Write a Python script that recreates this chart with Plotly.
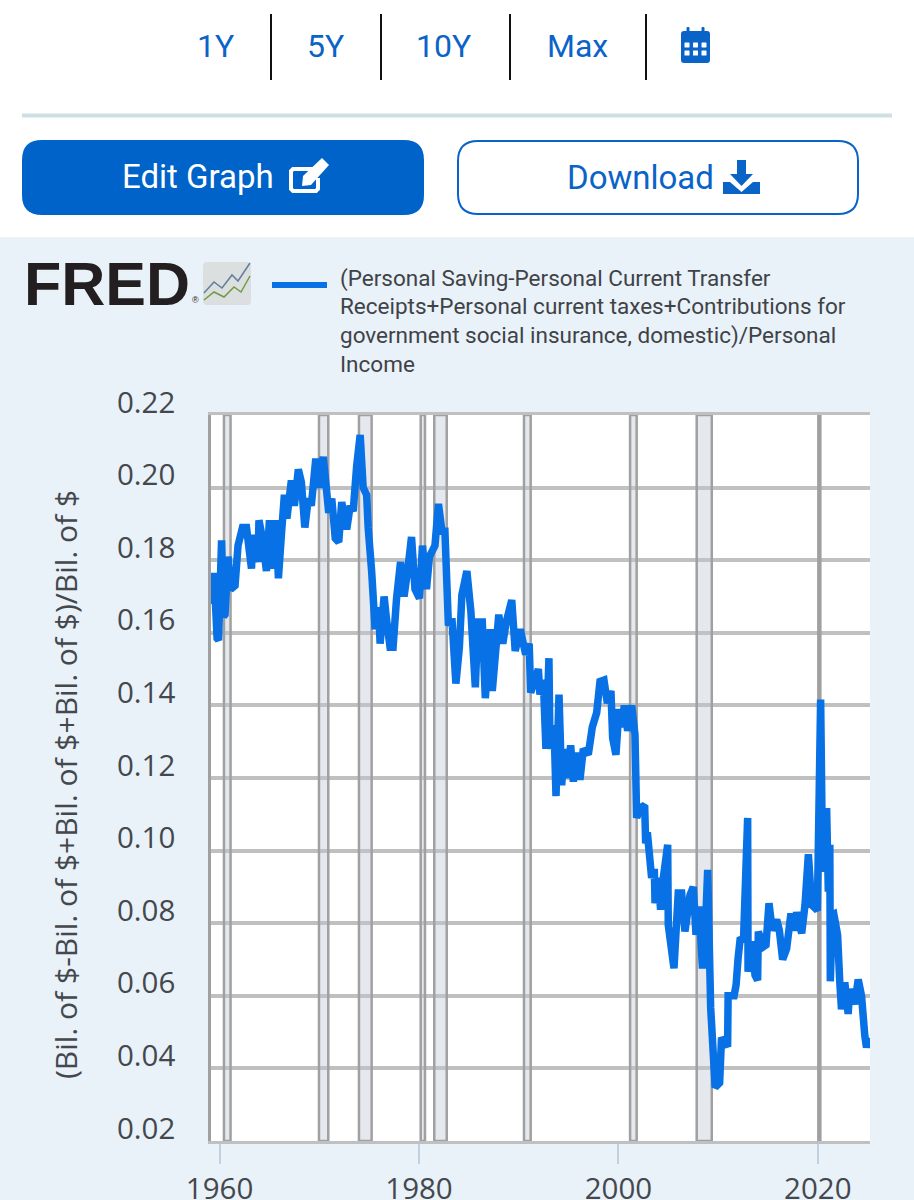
import plotly.graph_objects as go

W, H = 914, 1200

# series
years = [
    1959.14, 1959.3, 1959.45, 1959.75, 1959.9, 1960.2, 1960.4, 1960.55, 1960.85, 1961.1, 1961.55, 1961.85,
    1962.3, 1962.7, 1963.2, 1963.35, 1963.85, 1963.95, 1964.3, 1964.7, 1965.0, 1965.2, 1965.65, 1965.9,
    1966.2, 1966.5, 1966.75, 1967.2, 1967.5, 1967.9, 1968.2, 1968.55, 1968.9, 1969.2, 1969.65, 1969.95,
    1970.4, 1970.95, 1971.25, 1971.6, 1971.95, 1972.25, 1972.75, 1973.1, 1973.4, 1973.75, 1974.1, 1974.4,
    1974.75, 1974.9, 1975.25, 1975.6, 1975.95, 1976.1, 1976.5, 1976.75, 1977.1, 1977.4, 1977.75, 1978.15,
    1978.5, 1978.9, 1979.25, 1979.6, 1980.05, 1980.35, 1980.75, 1981.05, 1981.6, 1981.95, 1982.3, 1982.6,
    1982.95, 1983.3, 1983.7, 1984.05, 1984.3, 1984.8, 1985.2, 1985.65, 1985.9, 1986.35, 1986.65, 1987.15,
    1987.35, 1988.0, 1988.4, 1988.75, 1989.3, 1989.65, 1990.15, 1990.7, 1991.05, 1991.2, 1991.97, 1992.13,
    1992.47, 1992.73, 1993.03, 1993.14, 1993.54, 1993.74, 1994.04, 1994.31, 1994.57, 1994.81, 1995.21, 1995.48,
    1995.81, 1996.14, 1996.48, 1996.98, 1997.38, 1997.82, 1998.15, 1998.55, 1998.89, 1999.25, 1999.42, 1999.75,
    2000.06, 2000.32, 2000.59, 2000.92, 2001.33, 2001.66, 2001.83, 2002.16, 2002.63, 2002.73, 2002.9, 2003.33,
    2003.6, 2003.67, 2004.0, 2004.23, 2004.5, 2004.94, 2005.0, 2005.57, 2006.0, 2006.34, 2006.67, 2007.18,
    2007.51, 2007.78, 2008.08, 2008.41, 2008.58, 2008.95, 2009.25, 2009.7, 2010.15, 2010.34, 2010.95, 2011.0,
    2011.6, 2011.8, 2012.0, 2012.2, 2012.55, 2012.96, 2013.0, 2013.4, 2013.7, 2013.96, 2014.03, 2014.53,
    2014.8, 2015.1, 2015.43, 2015.87, 2016.14, 2016.47, 2016.87, 2017.3, 2017.64, 2017.87, 2018.38, 2018.71,
    2019.05, 2019.38, 2019.71, 2019.95, 2020.28, 2020.48, 2020.88, 2021.05, 2021.2, 2021.25, 2021.45, 2021.6,
    2021.98, 2022.2, 2022.37, 2022.7, 2023.04, 2023.2, 2023.7, 2024.05, 2024.38, 2024.71, 2024.88, 2025.15,
]
values = [
    .176, .168, .1765, .1585, .158, .1855, .1645, .165, .181, .172, .173, .184,
    .189, .189, .1777, .187, .1795, .191, .186, .177, .191, .1777, .191, .175,
    .187, .198, .1915, .202, .195, .205, .2015, .189, .197, .195, .208, .2,
    .2085, .193, .197, .186, .185, .196, .1885, .195, .1935, .206, .2145, .2,
    .198, .189, .177, .161, .167, .157, .170, .1635, .156, .156, .1695, .1795,
    .17, .178, .1864, .172, .1695, .184, .172, .181, .184, .1955, .188, .188,
    .162, .164, .146, .156, .1704, .177, .166, .145, .163, .163, .142, .161,
    .144, .165, .157, .163, .169, .155, .161, .154, .157, .1435, .15, .143,
    .147, .128, .153, .128, .1345, .115, .143, .118, .128, .12, .129, .119,
    .127, .1195, .128, .1265, .134, .138, .1466, .147, .1406, .144, .131, .1264,
    .139, .134, .14, .133, .14, .132, .109, .1117, .1125, .102, .105, .0925,
    .095, .0855, .0925, .0837, .0925, .1016, .0795, .0676, .0883, .0883, .0777, .0878,
    .09, .0768, .0846, .0685, .0685, .0947, .0568, .0348, .036, .0485, .046, .06,
    .06, .063, .0703, .0754, .0758, .109, .0666, .075, .0657, .0643, .0777, .0735,
    .074, .0855, .078, .081, .078, .07, .073, .0827, .078, .083, .0772, .085,
    .099, .085, .0842, .0835, .1416, .0942, .1117, .0887, .1016, .064, .0823, .0825,
    .0768, .0637, .0563, .0637, .055, .0618, .0577, .0645, .06, .049, .0458, .0485,
]

rec_start = [1960.44, 1969.97, 1973.98, 1980.17, 1981.53, 1990.53, 2001.17, 2007.85, 2020.05]
rec_end = [1961.1, 1970.9, 1975.25, 1980.6, 1982.78, 1991.2, 2001.83, 2009.36, 2020.25]

y_ticks = [0.22, 0.20, 0.18, 0.16, 0.14, 0.12, 0.10, 0.08, 0.06, 0.04, 0.02]
x_ticks = [1960, 1980, 2000, 2020]

legend_lines = [
    "(Personal Saving-Personal Current Transfer",
    "Receipts+Personal current taxes+Contributions for",
    "government social insurance, domestic)/Personal",
    "Income",
]
y_title = "(Bil. of $-Bil. of $+Bil. of $+Bil. of $)/Bil. of $"

BLUE = "#0a64c8"
LINE = "#0871e6"
PANEL = "#e9f1f9"
TEXT = "#44484d"


def px(x):
    return x / W


def py(y):
    return 1 - y / H


def path(points, close=True):
    s = "M " + " L ".join(f"{px(x):.5f} {py(y):.5f}" for x, y in points)
    return s + (" Z" if close else "")


def round_rect(x0, y0, x1, y1, r):
    p = lambda x, y: f"{px(x):.5f} {py(y):.5f}"
    return (f"M {p(x0 + r, y0)} L {p(x1 - r, y0)} Q {p(x1, y0)} {p(x1, y0 + r)} "
            f"L {p(x1, y1 - r)} Q {p(x1, y1)} {p(x1 - r, y1)} L {p(x0 + r, y1)} "
            f"Q {p(x0, y1)} {p(x0, y1 - r)} L {p(x0, y0 + r)} Q {p(x0, y0)} {p(x0 + r, y0)} Z")


def ui_path(d, fill=None, color=None, width=0):
    return dict(type="path", xref="paper", yref="paper", path=d, fillcolor=fill,
                line=dict(color=color or "rgba(0,0,0,0)", width=width), layer="above")


def ui_text(x, y, text, size, color, anchor="center", family="Roboto", **kw):
    return dict(xref="paper", yref="paper", x=px(x), y=py(y), text=text, showarrow=False,
                xanchor=anchor, yanchor="middle", font=dict(family=family, size=size, color=color), **kw)


fig = go.Figure()
fig.add_trace(go.Scatter(x=years, y=values, mode="lines", line=dict(color=LINE, width=7.5, simplify=False),
                         showlegend=False, hoverinfo="skip"))

shapes = []
annotations = []

# white header above the chart panel
shapes.append(dict(type="rect", xref="paper", yref="paper", x0=0, x1=1, y0=py(237), y1=1,
                   fillcolor="white", line=dict(width=0), layer="below"))

# recession bands
for a, b in zip(rec_start, rec_end):
    shapes.append(dict(type="rect", xref="x", yref="y", x0=a, x1=b, y0=0.02, y1=0.22, layer="between",
                       fillcolor="rgba(190,200,212,0.4)", line=dict(color="#a0a0a0", width=2.5)))

# range tabs
for x, label in zip([215, 325, 443, 577], ["1Y", "5Y", "10Y", "Max"]):
    annotations.append(ui_text(x, 46, label, 32, BLUE))
for x in [271, 381, 510, 646]:
    shapes.append(dict(type="line", xref="paper", yref="paper", x0=px(x), x1=px(x), y0=py(14), y1=py(80),
                       line=dict(color="#111111", width=2), layer="above"))

# calendar icon
shapes.append(ui_path(round_rect(681, 31, 710, 63, 3), fill=BLUE))
for x in [688, 703]:
    shapes.append(ui_path(round_rect(x - 1.5, 27, x + 1.5, 35, 1), fill=BLUE))
for cx in [687, 695.5, 704]:
    for cy in [45, 53]:
        shapes.append(ui_path(round_rect(cx - 2.5, cy - 2.5, cx + 2.5, cy + 2.5, 0.5), fill="white"))

# separator
shapes.append(dict(type="line", xref="paper", yref="paper", x0=px(22), x1=px(892), y0=py(115.5), y1=py(115.5),
                   line=dict(color="#cfe0e4", width=4), layer="above"))

# buttons
shapes.append(ui_path(round_rect(22, 140, 424, 215, 20), fill="#0063c9"))
shapes.append(ui_path(round_rect(458, 141, 858, 214, 20), fill="white", color=BLUE, width=2))
annotations.append(ui_text(198, 177, "Edit Graph", 33, "white"))
annotations.append(ui_text(640, 178, "Download", 33, BLUE))

# edit icon
shapes.append(ui_path(path([(314, 169), (293, 169), (291, 171), (291, 189), (293, 191), (316, 191),
                            (318, 189), (318, 178)], close=False), color="white", width=4))
shapes.append(ui_path(path([(303, 176), (322, 158), (329, 165), (311, 185), (302, 186)]), fill="white"))

# download icon
shapes.append(ui_path(path([(737, 160), (746, 160), (746, 174), (753, 174), (741.5, 186), (730, 174), (737, 174)]),
                      fill=BLUE))
shapes.append(ui_path(path([(723, 182), (730, 182), (741.5, 192), (753, 182), (760, 182), (760, 194), (723, 194)]),
                      fill=BLUE))

# FRED logo
annotations.append(ui_text(22, 284, "<b>FRED</b>", 61, "#231f20", anchor="left", family="Liberation Sans"))
annotations.append(ui_text(190, 300, "®", 9, "#231f20", anchor="left", family="Liberation Sans"))
shapes.append(ui_path(round_rect(203, 262, 251, 305, 4), fill="#dcdfe0"))
shapes.append(ui_path(path([(204, 293), (214, 282), (222, 288), (232, 275), (238, 281), (250, 263)], close=False),
                      color="#5f7f9c", width=1.5))
shapes.append(ui_path(path([(204, 300), (214, 292), (224, 297), (234, 287), (241, 292), (250, 276)], close=False),
                      color="#6f9a45", width=1.5))

# legend
shapes.append(dict(type="line", xref="paper", yref="paper", x0=px(272), x1=px(327), y0=py(285), y1=py(285),
                   line=dict(color=LINE, width=6), layer="above"))
for y, line in zip([278, 306, 335, 364], legend_lines):
    annotations.append(ui_text(338, y, line, 22.5, "#3f4347", anchor="left"))

# y tick labels sit above their gridlines
for t in y_ticks:
    annotations.append(dict(xref="paper", yref="y", x=px(177), y=t, text=f"{t:.2f}", showarrow=False,
                            xanchor="right", yanchor="middle", yshift=14,
                            font=dict(family="Open Sans", size=29.5, color=TEXT)))

annotations.append(ui_text(65, 785, y_title, 30, TEXT, family="Open Sans", textangle=-90))

fig.update_layout(
    width=W, height=H, autosize=False,
    margin=dict(l=0, r=0, t=0, b=0, autoexpand=False),
    paper_bgcolor=PANEL, plot_bgcolor="white",
    shapes=shapes, annotations=annotations,
    xaxis=dict(domain=[px(211), px(870)], range=[1959.14, 2025.23], tickmode="array", tickvals=x_ticks,
               ticks="outside", ticklen=20, tickcolor="#c0d0e0", tickwidth=1.5, showgrid=False, zeroline=False,
               showline=True, mirror=True, linecolor="#c0c0c0", linewidth=3,
               tickfont=dict(family="Open Sans", size=29.5, color=TEXT)),
    yaxis=dict(domain=[py(1141), py(415)], range=[0.02, 0.22], tickmode="array", tickvals=y_ticks,
               showticklabels=False, gridcolor="#c0c0c0", gridwidth=4, zeroline=False,
               showline=True, linecolor="#a0a0a0", linewidth=2.5),
)

# page margin off so the figure sits at the window corner
fig.write_html("out.html", config={"displayModeBar": False}, post_script="document.body.style.margin='0';")
